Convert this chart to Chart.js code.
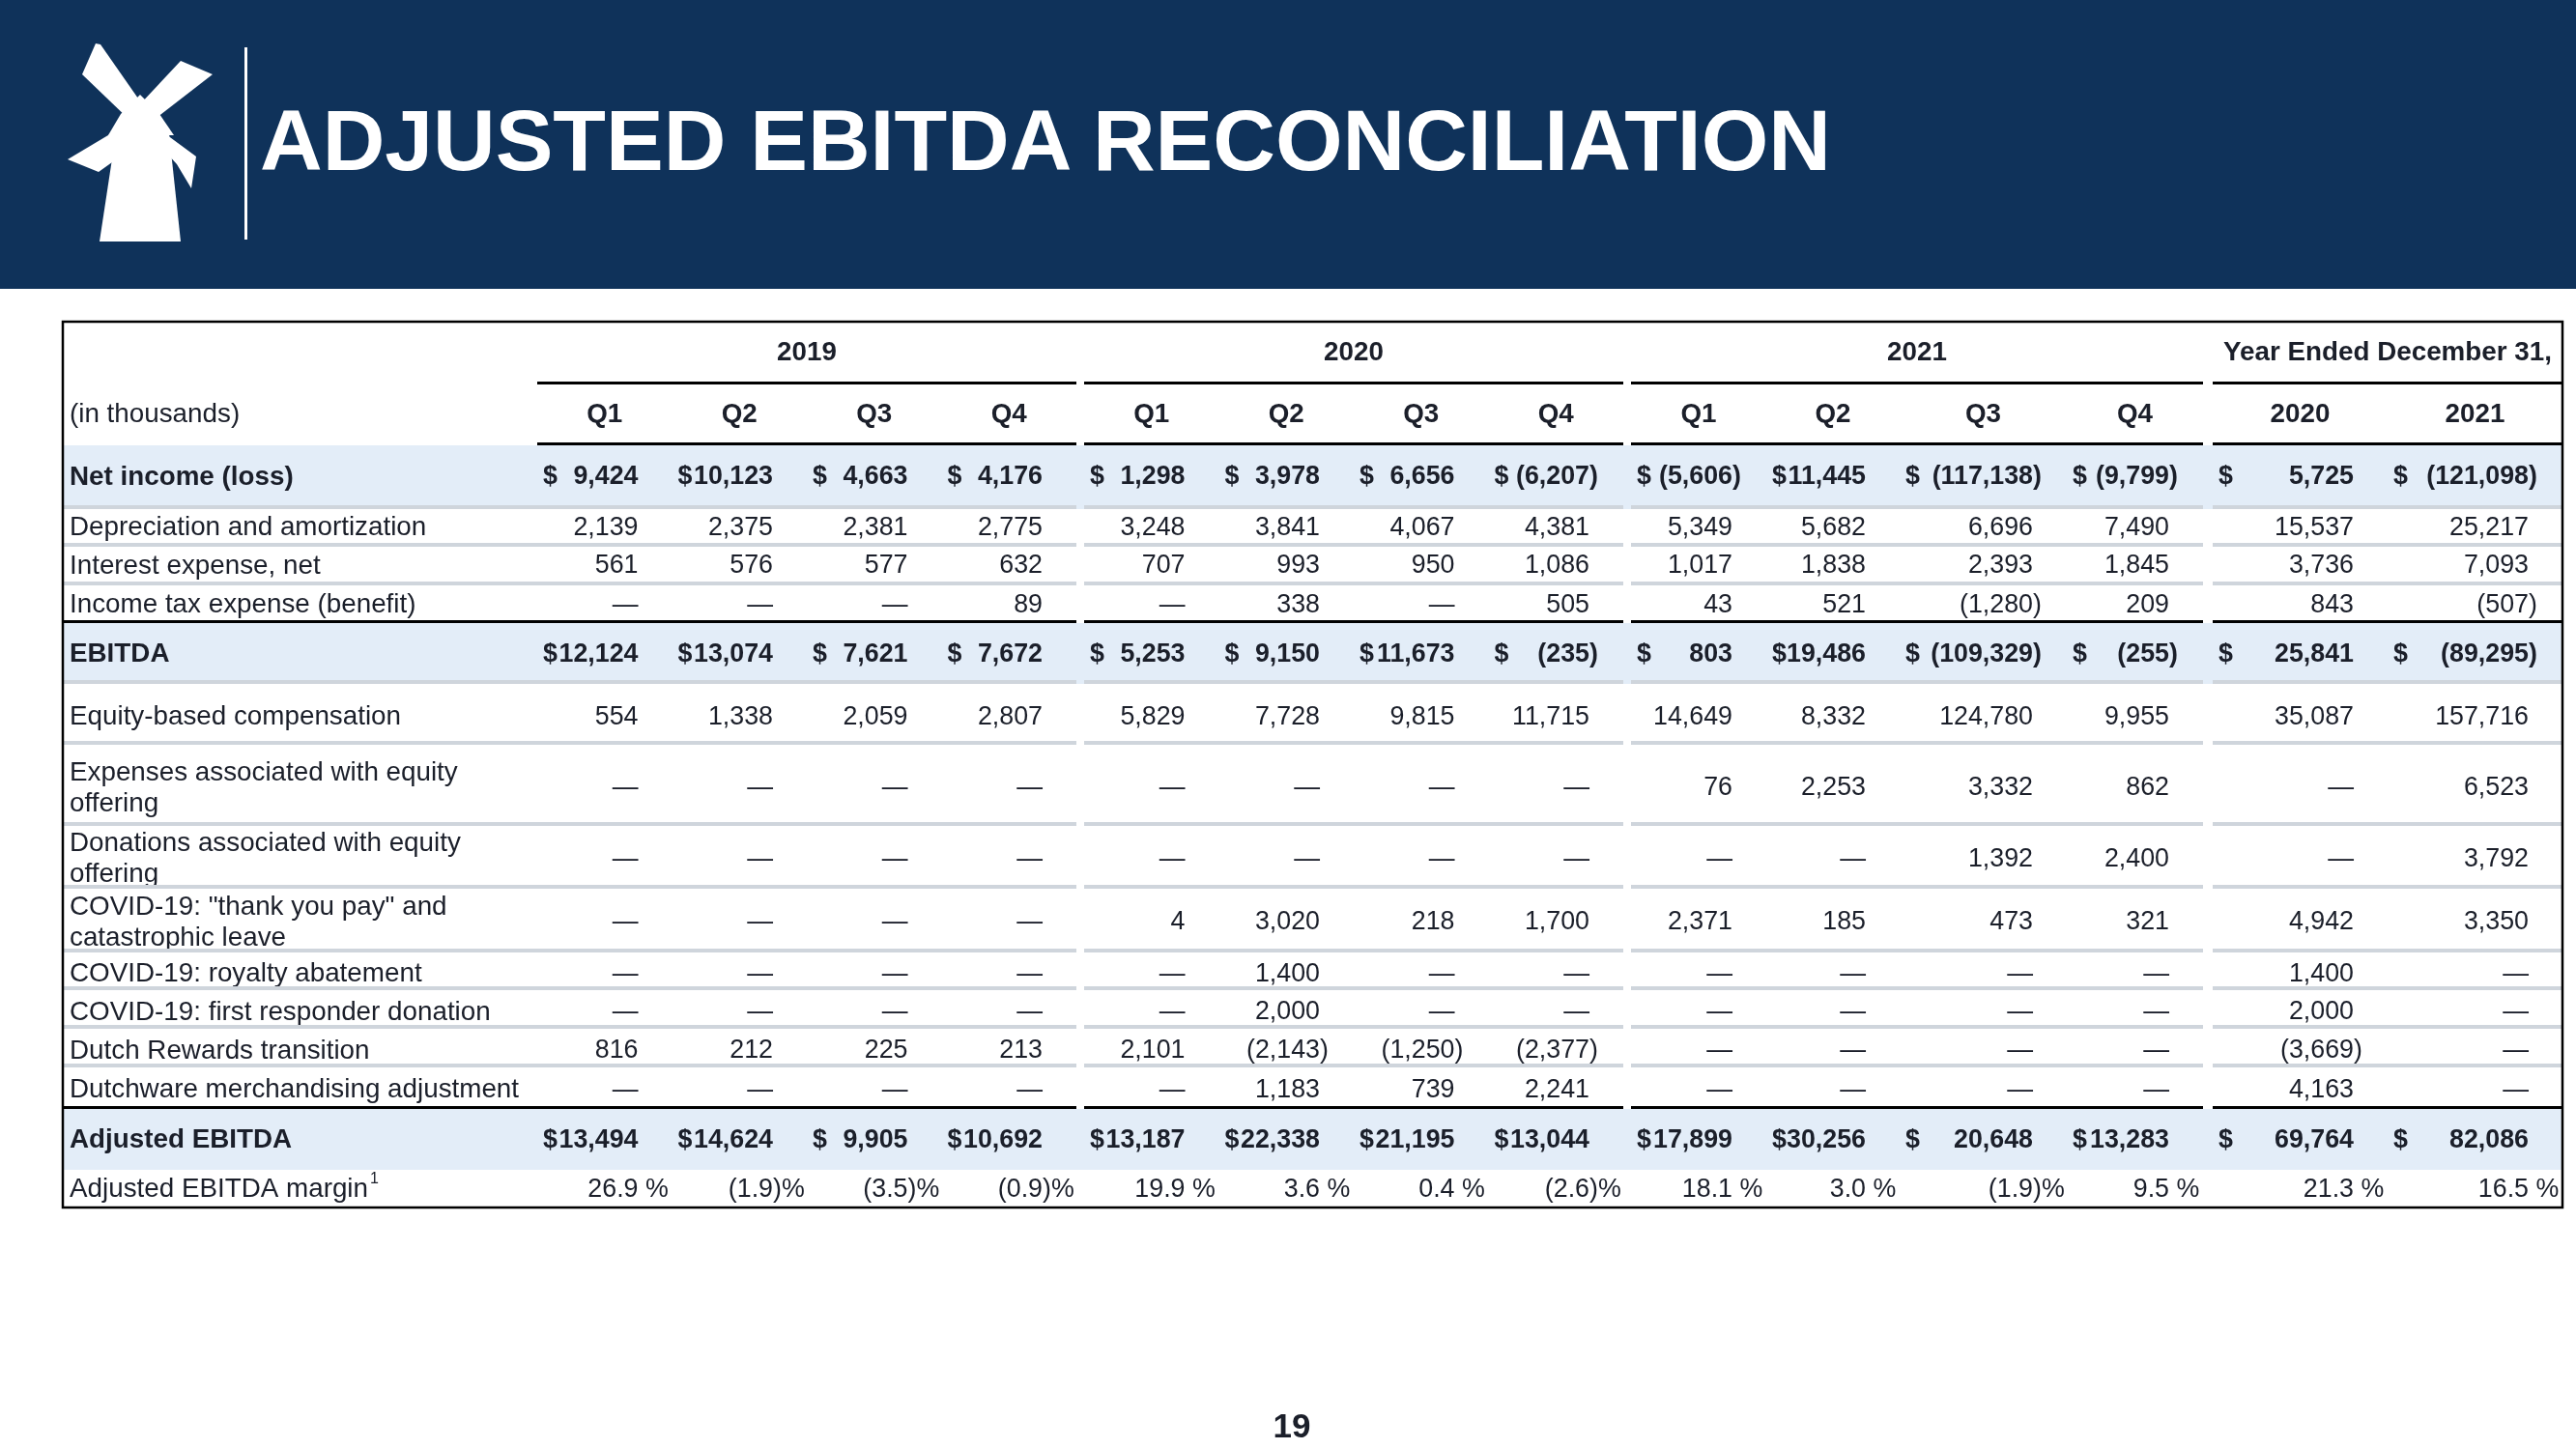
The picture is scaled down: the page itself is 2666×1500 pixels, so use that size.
<!DOCTYPE html>
<html>
<head>
<meta charset="utf-8">
<title>Adjusted EBITDA Reconciliation</title>
<script src="https://cdn.jsdelivr.net/npm/chart.js@4.4.1/dist/chart.umd.min.js"></script>
<style>
  html, body { margin: 0; padding: 0; background: #fff; }
  body { width: 2666px; height: 1500px; position: relative; overflow: hidden; font-family: 'Liberation Sans', Arial, sans-serif; }
  #banner { position: absolute; left: 0; top: 0; }
  #tableChart { position: absolute; left: 0; top: 0; }
  #pageNo { position: absolute; left: 1287px; width: 100px; top: 1456px; line-height: 40px; text-align: center; font-weight: bold; font-size: 35px; color: #1b1f2a; }
</style>
</head>
<body>
<svg id="banner" width="2666" height="299" xmlns="http://www.w3.org/2000/svg">
  <rect x="0" y="0" width="2666" height="299" fill="#0f325a"/>
  <g fill="#ffffff">
    <polygon points="120,138 175,138 187,250 103,250"/>
    <polygon points="125,118 145,98 165,118 180,140 112,140"/>
    <polygon points="99,45 104,46 150,112 135,125 85,77"/>
    <polygon points="187,63 220,77 158,125 143,110"/>
    <polygon points="122,134 70,165 102,178 130,158"/>
    <polygon points="165,134 203,162 198,195 183,170 172,158"/>
  </g>
  <rect x="253" y="49" width="3" height="199" fill="#ffffff"/>
  <text x="269" y="176" fill="#ffffff" font-family="Liberation Sans, Arial, sans-serif" font-weight="bold" font-size="89.5">ADJUSTED EBITDA RECONCILIATION</text>
</svg>
<canvas id="tableChart" width="2666" height="1500"></canvas>
<div id="pageNo">19</div>
<script>
// ---- data (in thousands) ----
const yearGroups = ['2019', '2020', '2021', 'Year Ended December 31,'];
const periods = ['Q1', 'Q2', 'Q3', 'Q4', 'Q1', 'Q2', 'Q3', 'Q4', 'Q1', 'Q2', 'Q3', 'Q4', '2020', '2021'];

const netIncome = [9424, 10123, 4663, 4176, 1298, 3978, 6656, -6207, -5606, 11445, -117138, -9799, 5725, -121098];
const depreciation = [2139, 2375, 2381, 2775, 3248, 3841, 4067, 4381, 5349, 5682, 6696, 7490, 15537, 25217];
const interestExpense = [561, 576, 577, 632, 707, 993, 950, 1086, 1017, 1838, 2393, 1845, 3736, 7093];
const incomeTax = [null, null, null, 89, null, 338, null, 505, 43, 521, -1280, 209, 843, -507];
const ebitda = [12124, 13074, 7621, 7672, 5253, 9150, 11673, -235, 803, 19486, -109329, -255, 25841, -89295];
const equityComp = [554, 1338, 2059, 2807, 5829, 7728, 9815, 11715, 14649, 8332, 124780, 9955, 35087, 157716];
const offeringExpenses = [null, null, null, null, null, null, null, null, 76, 2253, 3332, 862, null, 6523];
const offeringDonations = [null, null, null, null, null, null, null, null, null, null, 1392, 2400, null, 3792];
const covidPay = [null, null, null, null, 4, 3020, 218, 1700, 2371, 185, 473, 321, 4942, 3350];
const royaltyAbatement = [null, null, null, null, null, 1400, null, null, null, null, null, null, 1400, null];
const responderDonation = [null, null, null, null, null, 2000, null, null, null, null, null, null, 2000, null];
const rewardsTransition = [816, 212, 225, 213, 2101, -2143, -1250, -2377, null, null, null, null, -3669, null];
const dutchwareAdjustment = [null, null, null, null, null, 1183, 739, 2241, null, null, null, null, 4163, null];
const adjustedEbitda = [13494, 14624, 9905, 10692, 13187, 22338, 21195, 13044, 17899, 30256, 20648, 13283, 69764, 82086];
const adjustedMargin = [26.9, -1.9, -3.5, -0.9, 19.9, 3.6, 0.4, -2.6, 18.1, 3.0, -1.9, 9.5, 21.3, 16.5];

const rows = [
  { label: ['Net income (loss)'], values: netIncome, kind: 'total' },
  { label: ['Depreciation and amortization'], values: depreciation, kind: 'item' },
  { label: ['Interest expense, net'], values: interestExpense, kind: 'item' },
  { label: ['Income tax expense (benefit)'], values: incomeTax, kind: 'item' },
  { label: ['EBITDA'], values: ebitda, kind: 'total' },
  { label: ['Equity-based compensation'], values: equityComp, kind: 'item' },
  { label: ['Expenses associated with equity', 'offering'], values: offeringExpenses, kind: 'item' },
  { label: ['Donations associated with equity', 'offering'], values: offeringDonations, kind: 'item' },
  { label: ['COVID-19: "thank you pay" and', 'catastrophic leave'], values: covidPay, kind: 'item' },
  { label: ['COVID-19: royalty abatement'], values: royaltyAbatement, kind: 'item' },
  { label: ['COVID-19: first responder donation'], values: responderDonation, kind: 'item' },
  { label: ['Dutch Rewards transition'], values: rewardsTransition, kind: 'item' },
  { label: ['Dutchware merchandising adjustment'], values: dutchwareAdjustment, kind: 'item' },
  { label: ['Adjusted EBITDA'], values: adjustedEbitda, kind: 'total' },
  { label: ['Adjusted EBITDA margin'], values: adjustedMargin, kind: 'pct', note: '1' }
];

// ---- layout (table units) ----
const labelWidth = 491;
const groupColumnWidths = [
  [139.5, 139.5, 139.5, 139.5],
  [139.5, 139.5, 139.5, 139.5],
  [140, 138, 173, 141],
  [181, 181]
];
const groupGaps = [8, 8, 10];
const headerRowHeights = [65, 63];
const bodyRowHeights = [66, 39, 40, 39, 63, 63, 84, 65, 66, 39, 40, 40, 43, 63, 39];
const rowRules = ['gray', 'gray', 'gray', 'black', 'gray', 'gray', 'gray', 'gray', 'gray', 'gray', 'gray', 'gray', 'black', null, null];
const textNudge = [0, 0, 0, 1, 1, 3, 3, 2, 2, 3, 3, 3, 2, 1, 1];

const ink = '#1b1f2a';
const bandColor = '#e3edf8';
const ruleGray = '#cfd5dc';
const labelRegular = '27.8px "Liberation Sans", Arial, sans-serif';
const labelBold = 'bold 27.8px "Liberation Sans", Arial, sans-serif';
const valueRegular = '26.8px "Liberation Sans", Arial, sans-serif';
const valueBold = 'bold 26.8px "Liberation Sans", Arial, sans-serif';

function buildGroups() {
  const groups = [];
  let cursor = labelWidth;
  groupColumnWidths.forEach((widths, gi) => {
    const start = cursor;
    const cols = widths.map(w => {
      const col = { left: cursor, right: cursor + w };
      cursor += w;
      return col;
    });
    groups.push({ start, end: cursor, cols });
    if (gi < groupGaps.length) cursor += groupGaps[gi];
  });
  return { groups, total: cursor };
}

const layout = buildGroups();
const columns = layout.groups.flatMap(g => g.cols);
const tableHeight = headerRowHeights.concat(bodyRowHeights).reduce((a, b) => a + b, 0);

function splitValue(v, kind) {
  if (v === null) return { main: '\u2014', tail: '' };
  if (kind === 'pct') {
    const s = Math.abs(v).toFixed(1);
    return v < 0 ? { main: '(' + s, tail: ')%' } : { main: s, tail: ' %' };
  }
  const s = Math.abs(v).toLocaleString('en-US');
  return v < 0 ? { main: '(' + s, tail: ')' } : { main: s, tail: '' };
}

const tablePlugin = {
  id: 'reconTable',
  afterDraw(chart) {
    const { ctx, chartArea, scales: { x, y } } = chart;
    const px = v => x.getPixelForValue(v);
    const py = v => y.getPixelForValue(v);
    const segments = [[0, layout.groups[0].end]].concat(layout.groups.slice(1).map(g => [g.start, g.end]));

    function hline(yv, color, width, segs) {
      ctx.save();
      ctx.strokeStyle = color;
      ctx.lineWidth = width;
      segs.forEach(([a, b]) => {
        ctx.beginPath();
        ctx.moveTo(px(a), py(yv));
        ctx.lineTo(px(b), py(yv));
        ctx.stroke();
      });
      ctx.restore();
    }

    ctx.save();
    ctx.fillStyle = ink;
    ctx.textBaseline = 'middle';

    // header rows
    const h1 = headerRowHeights[0];
    const h2 = headerRowHeights[1];
    ctx.font = labelBold;
    ctx.textAlign = 'center';
    layout.groups.forEach((g, i) => {
      ctx.fillText(yearGroups[i], px((g.start + g.end) / 2), py(h1 / 2));
    });
    columns.forEach((c, i) => {
      ctx.fillText(periods[i], px((c.left + c.right) / 2), py(h1 + h2 / 2));
    });
    ctx.font = labelRegular;
    ctx.textAlign = 'left';
    ctx.fillText('(in thousands)', px(7), py(h1 + h2 / 2));
    const groupSegs = layout.groups.map(g => [g.start, g.end]);
    hline(h1 - 1.5, '#000', 3, groupSegs);
    hline(h1 + h2 - 1.5, '#000', 3, groupSegs);

    // body
    let top = h1 + h2;
    rows.forEach((row, ri) => {
      const h = bodyRowHeights[ri];
      const mid = top + h / 2 + textNudge[ri];
      if (row.kind === 'total') {
        ctx.fillStyle = bandColor;
        ctx.fillRect(px(0), py(top), px(layout.total) - px(0), py(top + h) - py(top));
        ctx.fillStyle = ink;
      }
      const bold = row.kind === 'total';
      ctx.font = bold ? labelBold : labelRegular;
      ctx.textAlign = 'left';
      const n = row.label.length;
      row.label.forEach((line, li) => {
        const ly = py(mid) + (li - (n - 1) / 2) * 32;
        ctx.fillText(line, px(7), ly);
        if (row.note && li === n - 1) {
          const w = ctx.measureText(line).width;
          ctx.save();
          ctx.font = '16px "Liberation Sans", Arial, sans-serif';
          ctx.fillText(row.note, px(7) + w + 2, ly - 11);
          ctx.restore();
        }
      });
      ctx.font = bold ? valueBold : valueRegular;
      row.values.forEach((v, ci) => {
        const c = columns[ci];
        const edge = px(c.right - 35);
        const { main, tail } = splitValue(v, row.kind);
        ctx.textAlign = 'right';
        ctx.fillText(main, edge, py(mid));
        if (tail) {
          ctx.textAlign = 'left';
          ctx.fillText(tail, edge, py(mid));
        }
        if (bold) {
          ctx.textAlign = 'left';
          ctx.fillText('$', px(c.left + 6), py(mid));
        }
      });
      const rule = rowRules[ri];
      if (rule === 'gray') hline(top + h - 2, ruleGray, 4, segments);
      if (rule === 'black') hline(top + h - 1.5, '#000', 3, segments);
      top += h;
    });

    // outer frame
    ctx.strokeStyle = '#000';
    ctx.lineWidth = 2.5;
    ctx.strokeRect(chartArea.left, chartArea.top, chartArea.right - chartArea.left, chartArea.bottom - chartArea.top);
    ctx.restore();
  }
};

new Chart(document.getElementById('tableChart'), {
  type: 'scatter',
  data: { datasets: [{ data: [], pointRadius: 0 }] },
  options: {
    responsive: false,
    animation: false,
    devicePixelRatio: 1,
    events: [],
    layout: { padding: { left: 65, top: 333, right: 14, bottom: 250 } },
    plugins: { legend: { display: false }, tooltip: { enabled: false } },
    scales: {
      x: { type: 'linear', display: false, min: 0, max: layout.total },
      y: { type: 'linear', display: false, reverse: true, min: 0, max: tableHeight }
    }
  },
  plugins: [tablePlugin]
});
</script>
</body>
</html>
